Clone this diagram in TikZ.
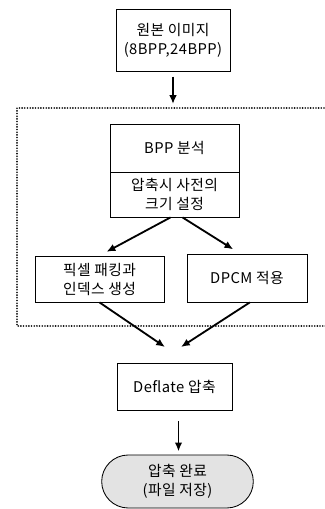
\documentclass[tikz,border=0pt]{standalone}
\usepackage{fontspec}
\setmainfont[LetterSpace=3]{Noto Sans CJK KR}
\usetikzlibrary{arrows.meta, positioning, shapes.misc}

\begin{document}
\begin{tikzpicture}[
    every node/.style={font=\fontsize{10.5}{13.5}\selectfont},
    box/.style={draw, line width=0.6pt, align=center, inner sep=2pt},
    arr/.style={-{Latex[length=2.2mm,width=1.9mm]}, line width=1.3pt},
    frame/.style={line width=1.3pt, line cap=round, dash pattern=on 0pt off 1.9pt}]
  \useasboundingbox (0,0) rectangle (8.1,12.725);

  \node[box, minimum width=28.5mm, minimum height=15.5mm] (src) at (4.325,11.725)
    {원본 이미지\\(8BPP,24BPP)};
  \node[box, minimum width=32.25mm, minimum height=12mm] (bpp) at (4.3625,9.025)
    {BPP 분석};
  \node[box, minimum width=32.25mm, minimum height=11.25mm] (dict) at (4.3625,7.8625)
    {압축시 사전의\\크기 설정};
  \node[box, minimum width=32.25mm, minimum height=11.5mm] (pack) at (2.4875,5.75)
    {픽셀 패킹과\\인덱스 생성};
  \node[box, minimum width=30mm, minimum height=12mm] (dpcm) at (6.175,5.775)
    {DPCM 적용};
  \node[box, minimum width=28.75mm, minimum height=11.75mm] (defl) at (4.3625,3.0625)
    {Deflate 압축};
  \node[draw, line width=0.6pt, rounded rectangle, fill=gray!22, align=center,
        minimum width=40.25mm, minimum height=13.25mm] (done) at (4.4375,0.6875)
    {압축 완료\\(파일 저장)};

  % dotted frame, its right side lies off the page
  \draw[frame] (8.3,10.025) -- (0.425,10.025) -- (0.425,4.575) -- (8.3,4.575);
  \coordinate (ftop) at (src.south |- 0,10.125);
  \coordinate (ml) at (4.125,4.05);
  \coordinate (mr) at (4.525,4.05);

  \draw[arr, shorten <=1.3mm] (src.south) -- (ftop);
  \draw[arr, shorten >=2mm] ([xshift=-1mm]dict.south) -- (pack.north);
  \draw[arr, shorten >=2mm] ([xshift=2mm]dict.south) -- (dpcm.north-|6.0,0);
  \draw[arr] (pack.south) -- (ml);
  \draw[arr] ([xshift=0.7mm]dpcm.south) -- (mr);
  \draw[arr, shorten <=2.7mm, shorten >=0.8mm] ([xshift=1mm]defl.south) -- ([xshift=1mm]defl.south |- done.north);
\end{tikzpicture}
\end{document}
